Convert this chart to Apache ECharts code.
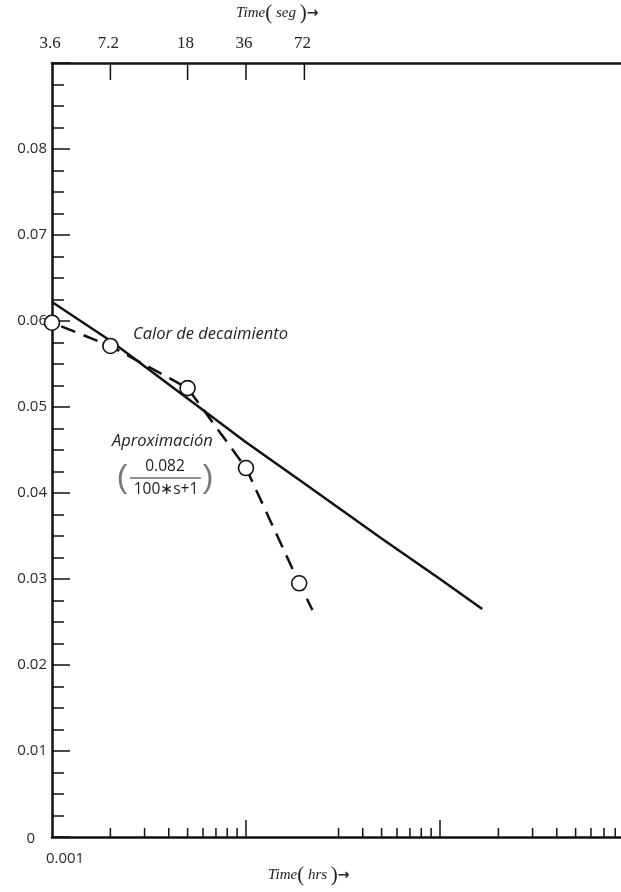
<!DOCTYPE html>
<html>
<head>
<meta charset="utf-8">
<script src="https://cdn.jsdelivr.net/npm/echarts@6/dist/echarts.min.js"></script>
<style>
  html, body { margin: 0; padding: 0; background: #ffffff; }
  #chart { width: 621px; height: 892px; }
</style>
</head>
<body>
<div id="chart"></div>
<script>
// Decay heat (fraction of operating power) against time after shutdown, in hours
const decayHours = [0.001, 0.002, 0.005, 0.01, 0.02, 0.05, 0.1, 0.165];
const decayHeat  = [0.0622, 0.0577, 0.0510, 0.0459, 0.0411, 0.0347, 0.0300, 0.0265];

// First-order approximation 0.082/(100*s+1)
const approxHours  = [0.001, 0.002, 0.005, 0.01, 0.0188, 0.022];
const approxHeat   = [0.0598, 0.0571, 0.0522, 0.0429, 0.0295, 0.0264];
const approxMarked = [true, true, true, true, true, false];

// Bottom (hours) axis tick marks
const hourMinorTicks = [0.002, 0.003, 0.004, 0.005, 0.006, 0.007, 0.008, 0.009,
                        0.03, 0.04, 0.05, 0.06, 0.07, 0.08, 0.09,
                        0.2, 0.3, 0.4, 0.5, 0.6, 0.7, 0.8];
const hourMajorTicks = [0.01, 0.1];
const hourLabels = ['0.001'];
const hourLabelValues = [0.001];

// Top (seconds) axis
const secondTicks = [7.2, 18, 36, 72];
const secondLabels = ['3.6', '7.2', '18', '36', '72'];
const secondLabelValues = [3.6, 7.2, 18, 36, 72];
const SECONDS_PER_HOUR = 3600;

const X_MIN = 0.001, X_MAX = 0.857;
const Y_MIN = 0, Y_MAX = 0.09;

const INK = '#111111';
const TEXT = '#2a2a2a';

// kinds: 0 bottom minor tick, 1 bottom major tick, 2 top tick, 3 top label, 4 bottom label
const axisMarks = [];
hourMinorTicks.forEach(v => axisMarks.push([v, 0, '']));
hourMajorTicks.forEach(v => axisMarks.push([v, 1, '']));
secondTicks.forEach(s => axisMarks.push([s / SECONDS_PER_HOUR, 2, '']));
secondLabelValues.forEach((s, i) => axisMarks.push([s / SECONDS_PER_HOUR, 3, secondLabels[i]]));
hourLabelValues.forEach((v, i) => axisMarks.push([v, 4, hourLabels[i]]));

const chart = echarts.init(document.getElementById('chart'), null, { renderer: 'canvas' });

const titleRich = {
  t: { font: 'italic 15px "Liberation Serif"', fill: '#222' },
  p: { font: '21px "Liberation Serif"', fill: '#222' },
  a: { font: 'bold 14px "DejaVu Sans"', fill: '#222' }
};

const option = {
  backgroundColor: '#ffffff',
  animation: false,
  grid: { left: 52, right: 0, top: 63, bottom: 55, containLabel: false },
  xAxis: [{
    type: 'log',
    logBase: 10,
    min: X_MIN,
    max: X_MAX,
    position: 'bottom',
    axisLine: { show: true, onZero: false, lineStyle: { color: INK, width: 2.5 } },
    axisTick: { show: false },
    axisLabel: { show: false },
    splitLine: { show: false }
  }, {
    type: 'log',
    logBase: 10,
    min: X_MIN,
    max: X_MAX,
    position: 'top',
    axisLine: { show: true, onZero: false, lineStyle: { color: INK, width: 2.5 } },
    axisTick: { show: false },
    axisLabel: { show: false },
    splitLine: { show: false }
  }],
  yAxis: {
    type: 'value',
    min: Y_MIN,
    max: Y_MAX,
    interval: 0.01,
    axisLine: { show: true, onZero: false, lineStyle: { color: INK, width: 2.5 } },
    axisTick: { show: true, inside: true, length: 18, lineStyle: { color: INK, width: 1.5 } },
    minorTick: { show: true, splitNumber: 4, length: 12, lineStyle: { color: INK, width: 1.5 } },
    splitLine: { show: false },
    axisLabel: {
      margin: 5,
      fontFamily: 'Open Sans',
      fontSize: 15,
      color: TEXT,
      formatter: function (v) {
        if (v >= Y_MAX - 1e-9) return '';
        if (v === 0) return '{z|0}';
        return v.toFixed(2);
      },
      rich: {
        z: { fontFamily: 'Open Sans', fontSize: 15, color: TEXT, padding: [4, 12, 0, 0] }
      }
    }
  },
  series: [
    {
      name: 'Calor de decaimiento',
      type: 'line',
      data: decayHours.map((h, i) => [h, decayHeat[i]]),
      showSymbol: false,
      symbol: 'none',
      lineStyle: { color: INK, width: 2.5 },
      z: 3,
      clip: false
    },
    {
      name: 'Aproximación',
      type: 'line',
      data: approxHours.map((h, i) => ({
        value: [h, approxHeat[i]],
        symbol: approxMarked[i] ? 'circle' : 'none'
      })),
      symbol: 'circle',
      symbolSize: 15,
      showSymbol: true,
      itemStyle: { color: '#ffffff', borderColor: INK, borderWidth: 1.6 },
      lineStyle: { color: INK, width: 2.5, type: [15, 9], dashOffset: 14 },
      z: 4,
      clip: false
    },
    {
      name: 'axisMarks',
      type: 'custom',
      silent: true,
      clip: false,
      z: 5,
      data: axisMarks,
      renderItem: function (params, api) {
        const v = api.value(0);
        const kind = api.value(1);
        const item = axisMarks[params.dataIndex];
        if (kind === 0 || kind === 1) {
          const p = api.coord([v, Y_MIN]);
          const len = kind === 1 ? 17 : 9;
          return { type: 'line', shape: { x1: p[0], y1: p[1], x2: p[0], y2: p[1] - len },
                   style: { stroke: INK, lineWidth: 1.5 } };
        }
        if (kind === 2) {
          const p = api.coord([v, Y_MAX]);
          return { type: 'line', shape: { x1: p[0], y1: p[1], x2: p[0], y2: p[1] + 17 },
                   style: { stroke: INK, lineWidth: 1.5 } };
        }
        if (kind === 3) {
          const p = api.coord([v, Y_MAX]);
          return { type: 'text', x: p[0] - 2, y: p[1] - 19,
                   style: { text: item[2], fill: '#222', font: '17px "Liberation Serif"',
                            align: 'center', verticalAlign: 'middle' } };
        }
        const p = api.coord([v, Y_MIN]);
        return { type: 'text', x: p[0] + 13, y: p[1] + 22,
                 style: { text: item[2], fill: TEXT, font: '15px "Open Sans"',
                          align: 'center', verticalAlign: 'middle' } };
      }
    }
  ],
  graphic: [
    {
      type: 'text', left: 236, top: 3,
      style: { text: '{t|Time}{p|(}{t| seg }{p|)}{a|→}', rich: titleRich }
    },
    {
      type: 'text', left: 268, top: 865,
      style: { text: '{t|Time}{p|(}{t| hrs }{p|)}{a|→}', rich: titleRich }
    },
    {
      type: 'text', left: 133, top: 326,
      style: { text: 'Calor de decaimiento', font: 'italic 16.5px "Open Sans"', fill: '#222' }
    },
    {
      type: 'text', left: 112, top: 433,
      style: { text: 'Aproximación', font: 'italic 16.5px "Open Sans"', fill: '#222' }
    },
    {
      type: 'text', x: 122, y: 478,
      style: { text: '(', font: '32px "Liberation Sans"', fill: '#777', align: 'center', verticalAlign: 'middle' }
    },
    {
      type: 'text', x: 208, y: 478,
      style: { text: ')', font: '32px "Liberation Sans"', fill: '#777', align: 'center', verticalAlign: 'middle' }
    },
    {
      type: 'text', x: 165, y: 467,
      style: { text: '0.082', font: '15.5px "Open Sans"', fill: '#222', align: 'center', verticalAlign: 'middle' }
    },
    {
      type: 'line', shape: { x1: 130, y1: 478, x2: 201, y2: 478 },
      style: { stroke: '#222', lineWidth: 1.2 }
    },
    {
      type: 'text', x: 166, y: 490,
      style: { text: '100∗s+1', font: '15.5px "Open Sans"', fill: '#222', align: 'center', verticalAlign: 'middle' }
    }
  ]
};

chart.setOption(option);
</script>
</body>
</html>
